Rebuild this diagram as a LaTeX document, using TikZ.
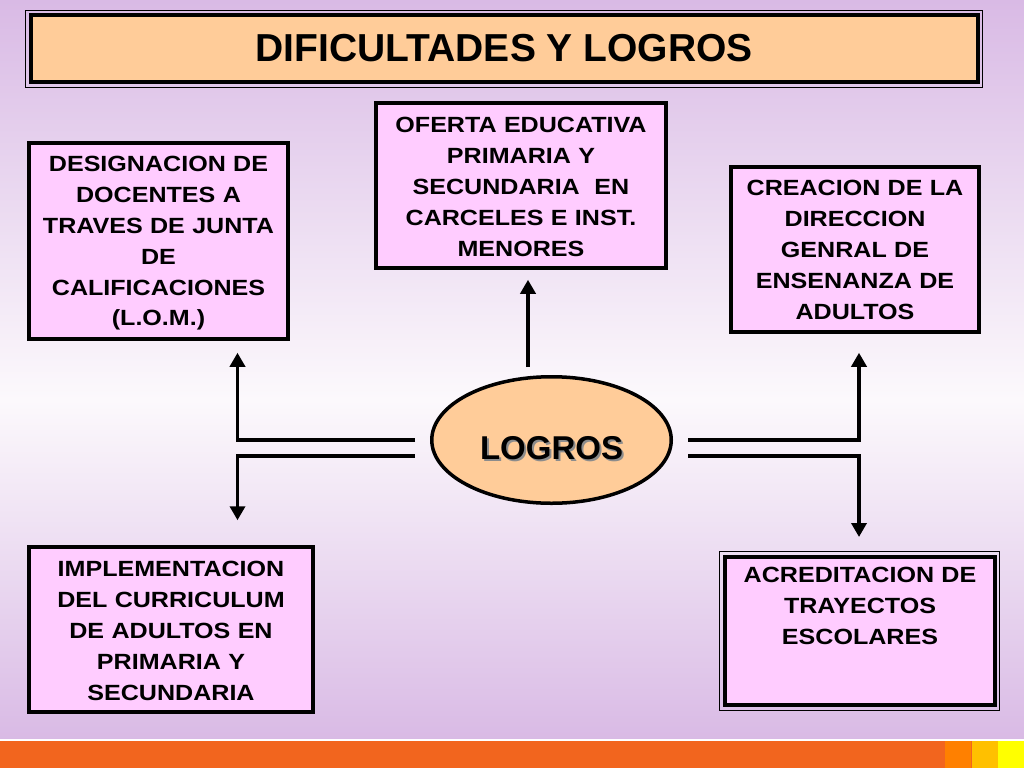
\documentclass[tikz,border=0pt]{standalone}
\usepackage{fontspec}
\setmainfont{Liberation Sans}
\newfontfamily\boxsans[FakeStretch=1.14]{Liberation Sans}
\usepackage{tikz}
\usetikzlibrary{arrows.meta, shapes.geometric, positioning}
\definecolor{lavender}{RGB}{217, 186, 229}
\definecolor{paleback}{RGB}{252, 249, 252}
\definecolor{peach}{RGB}{255, 204, 153}
\definecolor{pinkbox}{RGB}{255, 204, 255}
\definecolor{barorange}{RGB}{242, 101, 30}
\definecolor{barlight}{RGB}{255, 128, 0}
\definecolor{baramber}{RGB}{255, 192, 0}
\definecolor{baryellow}{RGB}{255, 255, 0}
\newcommand{\shadowtxt}[1]{\makebox[0pt][l]{\hspace{2pt}\raisebox{-2pt}{\textcolor{black!45}{#1}}}#1}

\begin{document}
\begin{tikzpicture}[x=1pt, y=-1pt,
    box/.style={draw, line width=3.5pt, fill=pinkbox, inner sep=0pt},
    boxtext/.style={anchor=north, align=center, inner sep=0pt, text width=#1,
      font=\boxsans\bfseries\fontsize{22}{30.8}\selectfont},
    link/.style={line width=3.5pt, -{Triangle[width=15pt,length=14pt]}}]
  \useasboundingbox (0,0) rectangle (1024,768);
  \shade[top color=lavender, bottom color=paleback] (0,0) rectangle (1024,400);
  \shade[top color=paleback, bottom color=lavender] (0,400) rectangle (1024,740);
  \fill[white] (0,739) rectangle (1024,741);
  \fill[barorange] (0,741) rectangle (1024,768);
  \foreach \x/\c in {945/barlight, 972/baramber, 998/baryellow}
    \fill[\c] (\x,741) rectangle (\x+26,768);

  \node[draw, line width=1.3pt, minimum width=956.6pt, minimum height=76.6pt] (titleframe) at (504,49) {};
  \node[draw, line width=4pt, fill=peach, minimum width=946.5pt, minimum height=66.5pt,
    font=\bfseries\fontsize{39}{46}\selectfont] (title) at (504.25,48.25) {DIFICULTADES Y LOGROS};

  \node[box, minimum width=259pt, minimum height=196pt] (desig) at (158.5,241) {};
  \node[boxtext=255pt, below=15pt of desig.north] (desigtext)
    {DESIGNACION DE\\DOCENTES A\\TRAVES DE JUNTA\\DE\\CALIFICACIONES\\(L.O.M.)};
  \node[box, minimum width=290pt, minimum height=165pt] (oferta) at (521,185.5) {};
  \node[boxtext=286pt, below=16pt of oferta.north] (ofertatext)
    {OFERTA EDUCATIVA\\PRIMARIA Y\\SECUNDARIA~ EN\\CARCELES E INST.\\MENORES};
  \node[box, minimum width=248pt, minimum height=165pt] (crea) at (855,249.5) {};
  \node[boxtext=244pt, below=15pt of crea.north] (creatext)
    {CREACION DE LA\\DIRECCION\\GENRAL DE\\ENSENANZA DE\\ADULTOS};
  \node[box, minimum width=284pt, minimum height=165pt] (impl) at (171,629.5) {};
  \node[boxtext=280pt, below=16pt of impl.north] (impltext)
    {IMPLEMENTACION\\DEL CURRICULUM\\DE ADULTOS EN\\PRIMARIA Y\\SECUNDARIA};
  \node[draw, line width=1.2pt, minimum width=279.8pt, minimum height=158.8pt] (acredframe) at (859.5,631) {};
  \node[box, line width=4pt, minimum width=270pt, minimum height=148pt] (acred) at (860,631) {};
  \node[boxtext=266pt, below=12pt of acred.north] (acredtext)
    {ACREDITACION DE\\TRAYECTOS\\ESCOLARES};

  \node[ellipse, draw, line width=3.5pt, fill=peach, minimum width=239.5pt, minimum height=126.5pt,
    inner sep=0pt, text height=38pt, text depth=0pt,
    font=\bfseries\fontsize{33}{40}\selectfont] (logros) at (551.5,440) {\shadowtxt{LOGROS}};

  \coordinate (lu) at ([xshift=-15pt]logros.west);
  \coordinate (ld) at ([xshift=-15pt,yshift=-16pt]logros.west);
  \coordinate (ru) at ([xshift=15pt]logros.east);
  \coordinate (rd) at ([xshift=15pt,yshift=-16pt]logros.east);

  \draw[link] ([xshift=-23.5pt,yshift=8pt]logros.north) -- ([xshift=7pt,yshift=-10pt]oferta.south);
  \draw[link] (lu) -| ([xshift=79pt,yshift=-12pt]desig.south);
  \draw[link] (ld) -| ([xshift=66.5pt,yshift=25pt]impl.north);
  \draw[link] (ru) -| ([xshift=4pt,yshift=-19pt]crea.south);
  \draw[link] (rd) -| ([xshift=-0.5pt,yshift=14pt]acredframe.north);
\end{tikzpicture}
\end{document}
